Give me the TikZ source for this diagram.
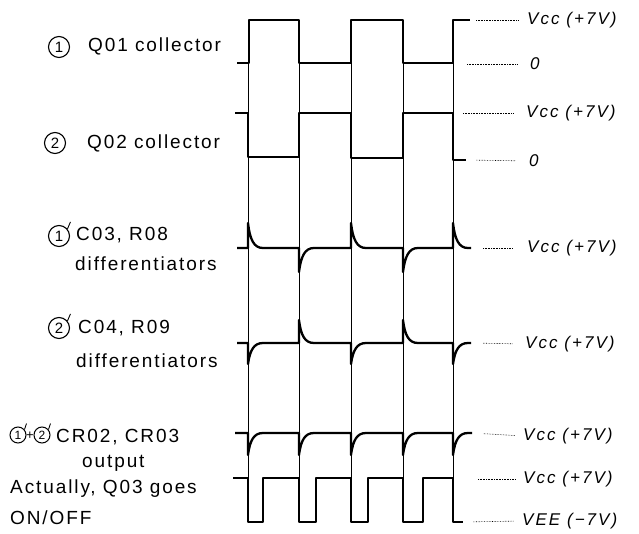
\documentclass[tikz,border=0pt]{standalone}
\usepackage{fontspec}
\setmainfont{Liberation Sans}[LetterSpace=10]
\newfontfamily\handfont{Liberation Sans}[LetterSpace=12]
\begin{document}
\begin{tikzpicture}[x=1pt,y=-1pt,
  wave/.style={line width=2.3pt,line join=round},
  guide/.style={line width=0.8pt},
  lvl/.style={densely dotted,line width=0.6pt},
  lbl/.style={anchor=west,inner sep=0pt,font=\fontsize{19pt}{22pt}\selectfont},
  rlbl/.style={anchor=west,inner sep=0pt,font=\handfont\itshape\fontsize{17pt}{20pt}\selectfont},
  circ/.style={circle,draw,line width=1.1pt,minimum size=21pt,inner sep=0pt,font=\fontsize{15pt}{15pt}\selectfont},
  scirc/.style={circ,minimum size=16pt,line width=1pt,font=\fontsize{12pt}{12pt}\selectfont},
  primemark/.style={line width=0.9pt}]
\useasboundingbox (0,0) rectangle (639,534);
% guides
\foreach \x in {248,299,351,403,453} \draw[guide] (\x,20) -- (\x,522);
% wave 1
\draw[wave] (237,63) -| (249,20) -| (299,63) -| (351,20) -| (403,63) -| (453,20) -- (470,20) coordinate (w1e);
\coordinate (w1z) at (462,64);
% wave 2
\draw[wave] (235,113) -| (248,157) -| (299,113) -| (351,158) -| (403,113) -| (453,160) -- (466,160) coordinate (w2e);
\coordinate (w2v) at (458,113);
% wave 3
\draw[wave] (237,248) -- (248,248) -- ++(0,-25) .. controls +(2,17) and +(-9,0) .. ++(15,25)
  -- (299,248) -- ++(0,24) .. controls +(2,-16) and +(-9,0) .. ++(15,-24)
  -- (351,248) -- ++(0,-25) .. controls +(2,17) and +(-9,0) .. ++(15,25)
  -- (403,248) -- ++(0,24) .. controls +(2,-16) and +(-9,0) .. ++(15,-24)
  -- (453,248) -- ++(0,-25) .. controls +(2,17) and +(-9,0) .. ++(15,25)
  -- (471,248) coordinate (w3e);
% wave 4
\draw[wave] (237,343) -- (248,343) -- ++(0,21) .. controls +(2,-14) and +(-9,0) .. ++(15,-21)
  -- (299,343) -- ++(0,-23) .. controls +(2,16) and +(-9,0) .. ++(15,23)
  -- (351,343) -- ++(0,21) .. controls +(2,-14) and +(-9,0) .. ++(15,-21)
  -- (403,343) -- ++(0,-23) .. controls +(2,16) and +(-9,0) .. ++(15,23)
  -- (453,343) -- ++(0,21) .. controls +(2,-14) and +(-9,0) .. ++(15,-21)
  -- (471,343) coordinate (w4e);
% wave 5
\draw[wave] (235,433) -- (248,433) -- ++(0,22) .. controls +(2,-15) and +(-9,0) .. ++(15,-22)
  -- (299,433) -- ++(0,22) .. controls +(2,-15) and +(-9,0) .. ++(15,-22)
  -- (351,433) -- ++(0,22) .. controls +(2,-15) and +(-9,0) .. ++(15,-22)
  -- (403,433) -- ++(0,22) .. controls +(2,-15) and +(-9,0) .. ++(15,-22)
  -- (453,433) -- ++(0,22) .. controls +(2,-15) and +(-9,0) .. ++(15,-22)
  -- (472,433) coordinate (w5e);
% wave 6
\draw[wave] (233,478) -| (248,522) -| (263,478) -| (299,522) -| (316,478) -| (351,522) -| (368,478) -| (403,522) -| (423,478) -| (453,522) -- (463,522) coordinate (w6e);
\coordinate (w6h) at (472,479);
% right labels
\node[rlbl] (r1) at (527,20) {Vcc (+7V)};
\node[rlbl] (r2) at (530,64) {0};
\node[rlbl] (r3) at (526,113) {Vcc (+7V)};
\node[rlbl] (r4) at (529,161) {0};
\node[rlbl] (r5) at (527,248) {Vcc (+7V)};
\node[rlbl] (r6) at (525,344) {Vcc (+7V)};
\node[rlbl] (r7) at (523,436) {Vcc (+7V)};
\node[rlbl] (r8) at (523,479) {Vcc (+7V)};
\node[rlbl] (r9) at (522,521) {VEE (−7V)};
\draw[lvl,shorten <=6pt,shorten >=9pt] (w1e) -- (r1.west);
\draw[lvl,shorten <=5pt,shorten >=12pt] (w1z) -- (r2.west);
\draw[lvl,shorten <=5pt,shorten >=12pt] (w2v) -- (r3.west);
\draw[lvl,shorten <=10pt,shorten >=14pt] (w2e) -- (r4.west);
\draw[lvl,shorten <=12pt,shorten >=14pt] (w3e) -- (r5.west);
\draw[lvl,shorten <=12pt,shorten >=12pt] (w4e) -- (r6.west);
\draw[lvl,shorten <=12pt,shorten >=8pt] (w5e) -- (r7.west);
\draw[lvl,shorten <=6pt,shorten >=8pt] (w6h) -- (r8.west);
\draw[lvl,shorten <=10pt,shorten >=8pt] (w6e) -- (r9.west);
% left labels
\node[circ] (c1) at (59,47) {1};
\node[lbl] (t1) at (88,46) {Q01 collector};
\node[circ] (c2) at (55,143) {2};
\node[lbl] (t2) at (87,143) {Q02 collector};
\node[circ] (c3) at (59,236) {1};
\draw[primemark] (c3.40) -- ++(3,-7);
\node[lbl] (t3) at (76,235) {C03, R08};
\node[lbl] (t3b) at (75,264) {differentiators};
\node[circ] (c4) at (59,328) {2};
\draw[primemark] (c4.40) -- ++(3,-7);
\node[lbl] (t4) at (78,328) {C04, R09};
\node[lbl] (t4b) at (76,361) {differentiators};
\node[scirc] (c5) at (18,435) {1};
\draw[primemark] (c5.40) -- ++(2,-6);
\node[font=\fontsize{13pt}{13pt}\selectfont,inner sep=0pt] (plus) at (30,436) {+};
\node[scirc] (c6) at (42,435) {2};
\draw[primemark] (c6.40) -- ++(2,-6);
\node[lbl] (t5) at (56,437) {CR02, CR03};
\node[lbl] (t5b) at (82,463) {output};
\node[lbl] (t6) at (10,489) {Actually, Q03 goes};
\node[lbl] (t6b) at (10,518) {ON/OFF};
\end{tikzpicture}
\end{document}
